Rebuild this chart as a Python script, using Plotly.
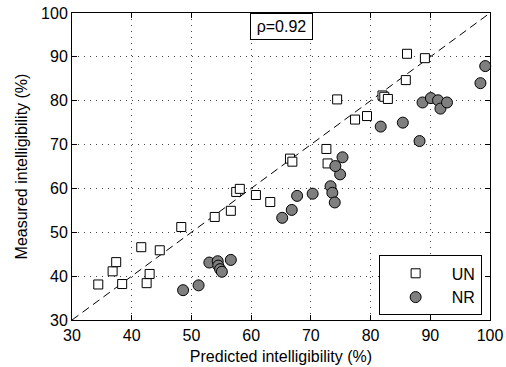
import plotly.graph_objects as go

# UN (unprocessed) data: predicted vs measured intelligibility (%)
un_x = [34.4, 36.8, 37.4, 38.4, 41.6, 42.5, 43.0, 44.7, 48.3, 53.9, 56.6, 57.5, 58.1, 60.8,
        63.2, 66.5, 66.9, 72.6, 72.8, 74.4, 77.4, 79.4, 82.0, 82.3, 82.9, 85.9, 86.1, 89.1]
un_y = [38.1, 41.1, 43.2, 38.2, 46.6, 38.4, 40.5, 45.9, 51.2, 53.5, 54.9, 59.2, 59.9, 58.5,
        56.9, 66.8, 66.1, 69.0, 65.7, 80.3, 75.7, 76.5, 81.2, 80.9, 80.4, 84.7, 90.7, 89.7]

# NR (noise-reduced) data
nr_x = [48.6, 51.2, 53.0, 54.4, 54.5, 54.8, 55.1, 56.6, 65.2, 66.8, 67.7, 70.3, 73.3, 73.6,
        74.0, 74.9, 74.1, 75.3, 81.7, 85.4, 88.2, 88.7, 90.1, 91.3, 91.7, 92.8, 98.4, 99.2]
nr_y = [36.8, 37.9, 43.1, 43.4, 42.4, 41.6, 41.0, 43.7, 53.3, 55.1, 58.3, 58.8, 60.5, 59.0,
        56.8, 63.2, 65.1, 67.1, 74.1, 75.0, 70.8, 79.6, 80.6, 80.1, 78.2, 79.6, 84.0, 87.9]

ticks = [30, 40, 50, 60, 70, 80, 90, 100]
rho_label = "ρ=0.92"
axis_min, axis_max = 30, 100

FONT = "Liberation Sans, Arial, Helvetica, sans-serif"
FS = 16

fig = go.Figure()

fig.add_shape(type="line", x0=axis_min, y0=axis_min, x1=axis_max, y1=axis_max,
              xref="x", yref="y", line=dict(color="black", width=1, dash="8px,5px"),
              layer="below")

fig.add_trace(go.Scatter(
    x=un_x, y=un_y, mode="markers", name="UN", cliponaxis=False,
    marker=dict(symbol="square", size=9, color="white",
                line=dict(color="black", width=1)),
))
fig.add_trace(go.Scatter(
    x=nr_x, y=nr_y, mode="markers", name="NR", cliponaxis=False,
    marker=dict(symbol="circle", size=11, color="#7f7f7f",
                line=dict(color="black", width=1)),
))

axis_common = dict(
    range=[axis_min, axis_max], tickvals=ticks, ticktext=[str(t) for t in ticks],
    showline=True, linecolor="black", linewidth=1, mirror="ticks",
    ticks="inside", ticklen=5, tickcolor="black", tickwidth=1,
    showgrid=True, gridcolor="#444444", gridwidth=1, griddash="1px,5px",
    zeroline=False, automargin=False,
    tickfont=dict(size=FS, color="black", family=FONT),
)

fig.update_xaxes(**axis_common, ticklabelstandoff=1,
                 title=dict(text="Predicted intelligibility (%)",
                            font=dict(size=FS, color="black", family=FONT), standoff=7))
fig.update_yaxes(**axis_common,
                 title=dict(text="Measured intelligibility (%)",
                            font=dict(size=FS, color="black", family=FONT), standoff=9))

fig.add_annotation(
    text=rho_label, xref="paper", yref="paper", x=0.5, y=1.0,
    xanchor="center", yanchor="top", showarrow=False,
    font=dict(size=FS, color="black", family=FONT),
    bordercolor="black", borderwidth=1, borderpad=4, bgcolor="white",
    width=53, height=17,
)

fig.update_layout(
    width=506, height=367,
    margin=dict(l=72, r=16, t=13, b=47),
    paper_bgcolor="white", plot_bgcolor="white",
    font=dict(family=FONT, size=FS, color="black"),
    showlegend=True,
    legend=dict(x=0.98, y=0.015, xanchor="right", yanchor="bottom",
                bgcolor="white", bordercolor="black", borderwidth=1,
                itemwidth=62, font=dict(size=FS, color="black", family=FONT)),
)

fig.write_html("out.html")
